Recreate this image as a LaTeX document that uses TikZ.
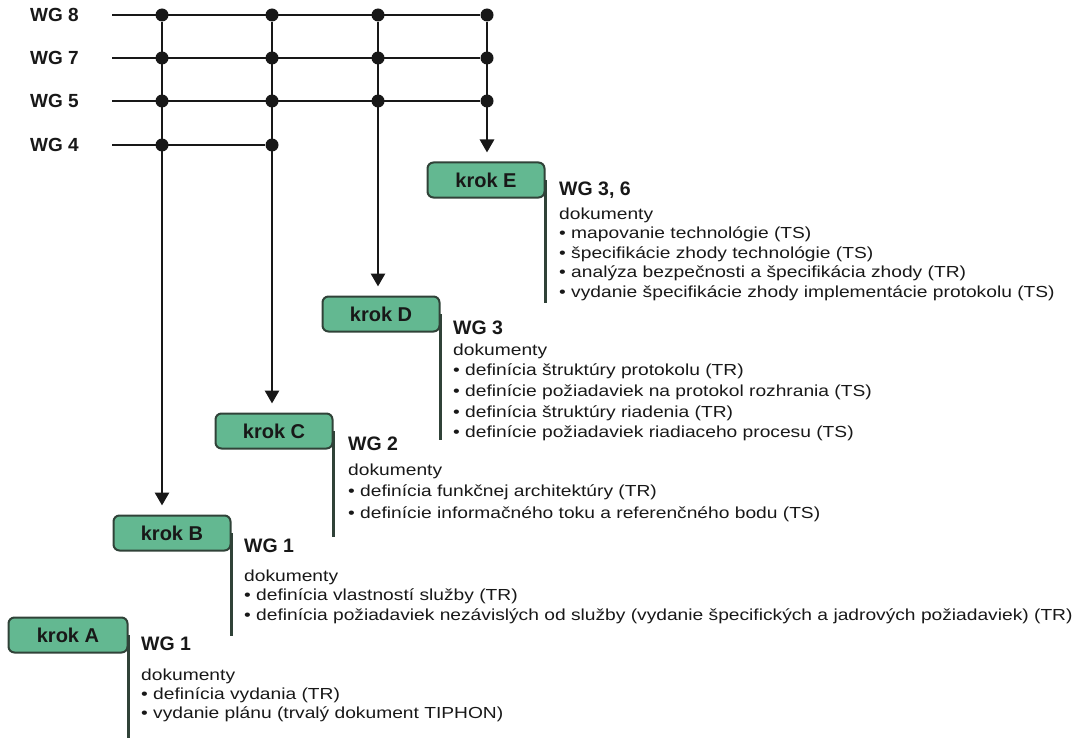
\documentclass[tikz,border=0pt]{standalone}
\usepackage{fontspec}
\setmainfont{Liberation Sans}
\newfontfamily\bodyfont{Liberation Sans}[FakeStretch=1.2]
\usetikzlibrary{arrows.meta}
\definecolor{stepfill}{RGB}{99,184,145}
\definecolor{stepedge}{RGB}{48,66,56}
\definecolor{ink}{RGB}{24,24,24}

% a block of document lines: first baseline at the node's base
\newcommand{\doclines}[2]{\vtop{\baselineskip=#1pt\relax #2}}
\newcommand{\docline}[1]{\hbox{#1}}

\begin{document}
\begin{tikzpicture}[x=1pt,y=-1pt,
  wire/.style={line width=2.8pt, draw=ink},
  feed/.style={wire, -{Triangle[length=13pt, width=14pt]}, shorten >=9pt},
  joint/.style={circle, fill=ink, inner sep=0pt, minimum size=13pt},
  wglabel/.style={anchor=east, inner sep=0pt, text=ink,
    font=\fontsize{19}{19}\selectfont\bfseries},
  stepbox/.style={draw=stepedge, line width=2pt, fill=stepfill,
    rounded corners=6pt, minimum width=117pt, minimum height=35pt,
    inner sep=0pt, text=ink, font=\fontsize{20}{20}\selectfont\bfseries},
  stem/.style={line width=2.2pt, draw=stepedge},
  wgtitle/.style={anchor=base west, inner sep=0pt, text=ink,
    font=\fontsize{19.5}{19.5}\selectfont\bfseries},
  docs/.style={anchor=base west, inner sep=0pt, text=ink,
    font=\bodyfont\fontsize{16}{20}\selectfont}
]
\useasboundingbox (0,0) rectangle (1083,738);

% working group labels and line starts
\node[wglabel] (l8) at (79,15) {WG 8};
\node[wglabel] (l7) at (79,58) {WG 7};
\node[wglabel] (l5) at (79,101) {WG 5};
\node[wglabel] (l4) at (79,145) {WG 4};
\coordinate (s8) at (112,15);
\coordinate (s7) at (112,58);
\coordinate (s5) at (112,101);
\coordinate (s4) at (112,145);

% junction dots
\foreach \r/\y in {8/15,7/58,5/101}{
  \node[joint] (j\r a) at (162,\y) {};
  \node[joint] (j\r b) at (272,\y) {};
  \node[joint] (j\r c) at (378,\y) {};
  \node[joint] (j\r d) at (487,\y) {};
}
\node[joint] (j4a) at (162,145) {};
\node[joint] (j4b) at (272,145) {};

% steps
\node[stepbox] (krokE) at (486,180) {krok E};
\node[stepbox] (krokD) at (381,314) {krok D};
\node[stepbox] (krokC) at (274,431) {krok C};
\node[stepbox] (krokB) at (172,533) {krok B};
\node[stepbox, minimum width=119pt] (krokA) at (68,635) {krok A};

% horizontal working group lines
\draw[wire] (s8) -- (j8d);
\draw[wire] (s7) -- (j7d);
\draw[wire] (s5) -- (j5d);
\draw[wire] (s4) -- (j4b);

% feeds down to the steps
\draw[feed] (j8a) -- (krokB.north -| j8a);
\draw[feed] (j8b) -- (krokC.north -| j8b);
\draw[feed] (j8c) -- (krokD.north -| j8c);
\draw[feed] (j8d) -- (krokE.north -| j8d);

% stems to the right of each step
\coordinate (endE) at (545,303);
\coordinate (endD) at (440,440);
\coordinate (endC) at (333,537);
\coordinate (endB) at (231,636);
\coordinate (endA) at (128,738);
\draw[stem] (krokE.east) -- (krokE.east |- endE);
\draw[stem] (krokD.east) -- (krokD.east |- endD);
\draw[stem] (krokC.east) -- (krokC.east |- endC);
\draw[stem] (krokB.east) -- (krokB.east |- endB);
\draw[stem] (krokA.east) -- (krokA.east |- endA);

% step E
\node[wgtitle] (tE) at (559,196) {WG 3, 6};
\node[docs] (dE) at (559,219) {\doclines{19.6}{%
  \docline{dokumenty}
  \docline{• mapovanie technológie (TS)}
  \docline{• špecifikácie zhody technológie (TS)}
  \docline{• analýza bezpečnosti a špecifikácia zhody (TR)}
  \docline{• vydanie špecifikácie zhody implementácie protokolu (TS)}}};

% step D
\node[wgtitle] (tD) at (453,334) {WG 3};
\node[docs] (dD) at (453,355) {\doclines{20.7}{%
  \docline{dokumenty}
  \docline{• definícia štruktúry protokolu (TR)}
  \docline{• definície požiadaviek na protokol rozhrania (TS)}
  \docline{• definícia štruktúry riadenia (TR)}
  \docline{• definície požiadaviek riadiaceho procesu (TS)}}};

% step C
\node[wgtitle] (tC) at (348,450) {WG 2};
\node[docs] (dC) at (348,475) {\doclines{21.5}{%
  \docline{dokumenty}
  \docline{• definícia funkčnej architektúry (TR)}
  \docline{• definície informačného toku a referenčného bodu (TS)}}};

% step B
\node[wgtitle] (tB) at (244,552) {WG 1};
\node[docs] (dB) at (244,581) {\doclines{19.5}{%
  \docline{dokumenty}
  \docline{• definícia vlastností služby (TR)}
  \docline{• definícia požiadaviek nezávislých od služby (vydanie špecifických a jadrových požiadaviek) (TR)}}};

% step A
\node[wgtitle] (tA) at (141,650) {WG 1};
\node[docs] (dA) at (141,680) {\doclines{19}{%
  \docline{dokumenty}
  \docline{• definícia vydania (TR)}
  \docline{• vydanie plánu (trvalý dokument TIPHON)}}};
\end{tikzpicture}
\end{document}
